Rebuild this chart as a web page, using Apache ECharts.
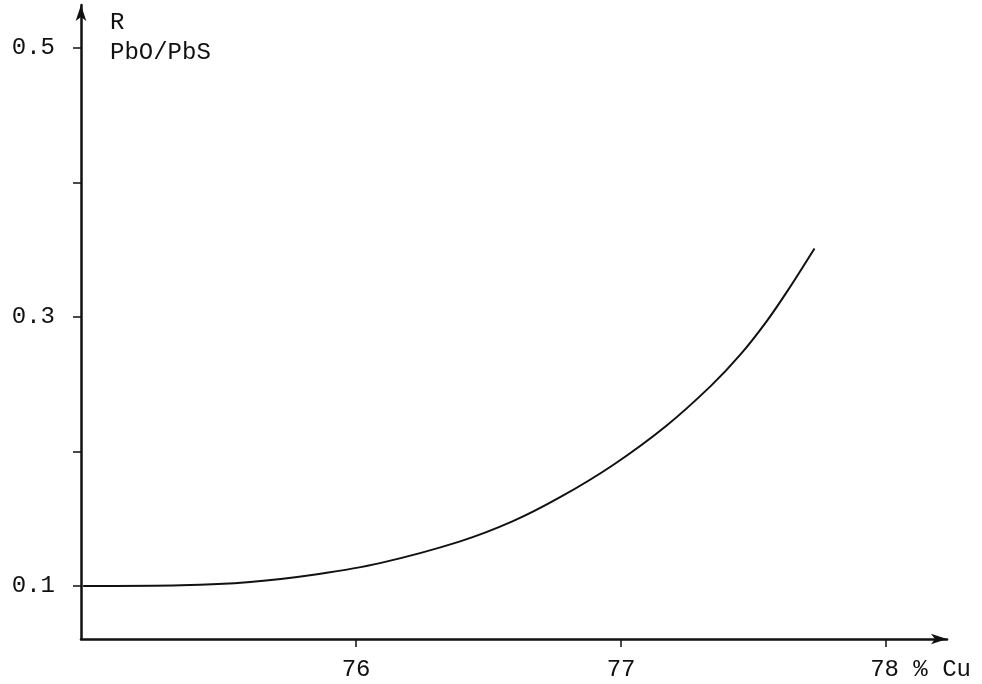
<!DOCTYPE html>
<html>
<head>
<meta charset="utf-8">
<title>R PbO/PbS vs % Cu</title>
<script src="https://cdn.jsdelivr.net/npm/echarts@6/dist/echarts.min.js"></script>
<style>
    html, body {
        margin: 0;
        padding: 0;
        background: #ffffff;
    }

    #chart {
        width: 982px;
        height: 684px;
    }
</style>
</head>
<body>
<div id="chart"></div>
<script>
// curve: % Cu vs R (PbO/PbS)
const cu = [74.97, 75.34, 75.60, 75.86, 76.09, 76.39, 76.59, 76.77, 76.97, 77.17, 77.34, 77.45, 77.55, 77.63, 77.73];
const ratio = [0.100, 0.1005, 0.103, 0.109, 0.117, 0.133, 0.148, 0.166, 0.190, 0.219, 0.249, 0.272, 0.297, 0.320, 0.351];

const xTicks = [76, 77, 78];
const yTicks = [0.1, 0.2, 0.3, 0.4, 0.5];
const yLabels = [0.1, 0.3, 0.5];

const ink = "#111111";
const font = "'Liberation Mono', 'DejaVu Sans Mono', monospace";

const chart = echarts.init(document.getElementById("chart"));

const points = cu.map((x, i) => [x, ratio[i]]);

const option = {
    animation: false,
    backgroundColor: "#ffffff",
    grid: { left: 81, right: 35, top: 5, bottom: 45 },
    xAxis: {
        type: "value",
        min: 74.962,
        max: 78.23,
        axisLine: {
            lineStyle: { color: ink, width: 2.5 },
            symbol: ["none", "arrow"],
            symbolSize: [8, 16],
        },
        axisTick: {
            customValues: xTicks,
            length: 8,
            lineStyle: { color: ink, width: 1.5 },
        },
        axisLabel: {
            customValues: xTicks,
            margin: 19,
            color: ink,
            fontFamily: font,
            fontSize: 24,
            formatter: (v) => (v === 78 ? "{end|78 % Cu}" : String(v)),
            rich: {
                end: {
                    color: ink,
                    fontFamily: font,
                    fontSize: 24,
                    padding: [0, 0, 0, 69],
                },
            },
        },
        splitLine: { show: false },
    },
    yAxis: {
        type: "value",
        min: 0.0606,
        max: 0.532,
        name: "R\nPbO/PbS",
        nameLocation: "end",
        nameGap: -3,
        nameTextStyle: {
            color: ink,
            fontFamily: font,
            fontSize: 24,
            lineHeight: 30,
            align: "left",
            verticalAlign: "top",
            padding: [0, 0, 0, 29],
        },
        axisLine: {
            show: true,
            lineStyle: { color: ink, width: 2.5 },
            symbol: ["none", "arrow"],
            symbolSize: [8, 16],
        },
        axisTick: {
            show: true,
            customValues: yTicks,
            length: 8,
            lineStyle: { color: ink, width: 1.5 },
        },
        axisLabel: {
            customValues: yLabels,
            margin: 26,
            color: ink,
            fontFamily: font,
            fontSize: 24,
            formatter: (v) => v.toFixed(1),
        },
        splitLine: { show: false },
    },
    series: [
        {
            type: "line",
            data: points,
            smooth: 0.3,
            symbol: "none",
            lineStyle: { color: ink, width: 2 },
        },
    ],
};

chart.setOption(option);

window.addEventListener("resize", () => chart.resize());
</script>
</body>
</html>
